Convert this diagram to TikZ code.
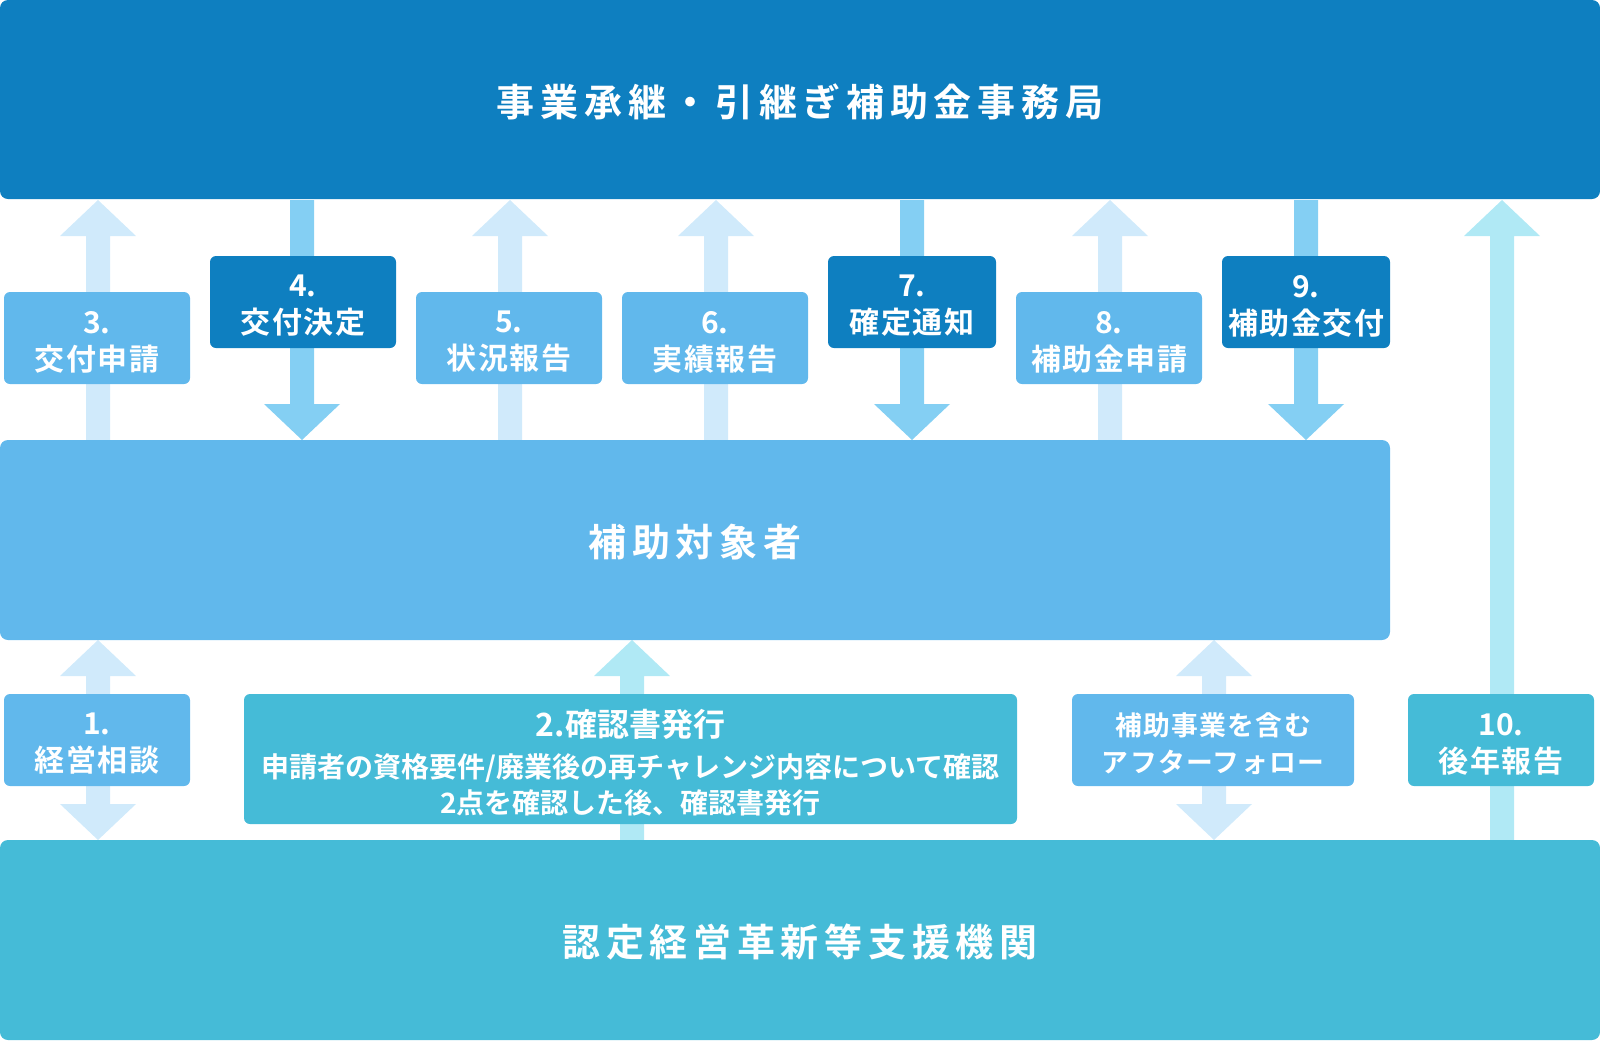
\documentclass[tikz,border=0pt]{standalone}
\usepackage{fontspec}
\setmainfont{Noto Sans CJK JP}[BoldFont={* Bold}]
\definecolor{cdark}{HTML}{0E7FC0}
\definecolor{cmid}{HTML}{61B8EC}
\definecolor{ccyan}{HTML}{45BBD7}
\definecolor{alight}{HTML}{D0EAFB}
\definecolor{amid}{HTML}{84CFF3}
\definecolor{acyan}{HTML}{B0E9F5}
\newcommand\arrUp[4]{\fill[#1] (#2-12,#3) -- (#2-12,#4+36) -- (#2-38,#4+36) -- (#2,#4) -- (#2+38,#4+36) -- (#2+12,#4+36) -- (#2+12,#3) -- cycle;}
\newcommand\arrDown[4]{\fill[#1] (#2-12,#3) -- (#2-12,#4-36) -- (#2-38,#4-36) -- (#2,#4) -- (#2+38,#4-36) -- (#2+12,#4-36) -- (#2+12,#3) -- cycle;}
\newcommand\arrBoth[4]{\fill[#1] (#2,#3) -- (#2+38,#3+36) -- (#2+12,#3+36) -- (#2+12,#4-36) -- (#2+38,#4-36) -- (#2,#4) -- (#2-38,#4-36) -- (#2-12,#4-36) -- (#2-12,#3+36) -- (#2-38,#3+36) -- cycle;}
\newcommand\numl[1]{{\addfontfeatures{LetterSpace=0}#1}}
\tikzset{
  bar/.style={rounded corners=4pt, inner sep=0pt},
  bartext/.style={inner sep=0pt, text=white, yshift=-1.2pt, font=\fontsize{19}{22}\selectfont\bfseries\addfontfeatures{LetterSpace=15}},
  lbl/.style={rounded corners=3pt, inner sep=0pt, minimum height=46pt},
  lbltext/.style={inner sep=0pt, text=white, align=center, yshift=-2pt,
     font=\fontsize{15}{18.5}\selectfont\bfseries\addfontfeatures{LetterSpace=5}},
}
\begin{document}
\begin{tikzpicture}[x=0.5pt,y=-0.5pt]
\useasboundingbox (0,0) rectangle (1600,1040);
% arrows (behind)
\arrUp{alight}{98}{440}{200}
\arrDown{amid}{302}{200}{440}
\arrUp{alight}{510}{440}{200}
\arrUp{alight}{716}{440}{200}
\arrDown{amid}{912}{200}{440}
\arrUp{alight}{1110}{440}{200}
\arrDown{amid}{1306}{200}{440}
\arrUp{acyan}{1502}{840}{200}
\arrBoth{alight}{98}{640}{840}
\arrUp{acyan}{632}{840}{640}
\arrBoth{alight}{1214}{640}{840}
% bars
\node[bar, fill=cdark, minimum width=800pt, minimum height=99.5pt] (top) at (800,99.5) {};
\node[bartext] (topt) at (top.center) {事業承継・引継ぎ補助金事務局};
\node[bar, fill=cmid, minimum width=695pt, minimum height=100pt] (mid) at (695,540) {};
\node[bartext] (midt) at (mid.center) {補助対象者};
\node[bar, fill=ccyan, minimum width=800pt, minimum height=100pt] (bot) at (800,940) {};
\node[bartext] (bott) at (bot.center) {認定経営革新等支援機関};
% labels
\node[lbl, fill=cmid, minimum width=93pt] (b3) at (97,338) {};
\node[lbltext] at (b3.center) {\numl{3.}\\交付申請};
\node[lbl, fill=cdark, minimum width=93pt] (b4) at (303,302) {};
\node[lbltext] at (b4.center) {\numl{4.}\\交付決定};
\node[lbl, fill=cmid, minimum width=93pt] (b5) at (509,338) {};
\node[lbltext] at (b5.center) {\numl{5.}\\状況報告};
\node[lbl, fill=cmid, minimum width=93pt] (b6) at (715,338) {};
\node[lbltext] at (b6.center) {\numl{6.}\\実績報告};
\node[lbl, fill=cdark, minimum width=84pt] (b7) at (912,302) {};
\node[lbltext] at (b7.center) {\numl{7.}\\確定通知};
\node[lbl, fill=cmid, minimum width=93pt] (b8) at (1109,338) {};
\node[lbltext] at (b8.center) {\numl{8.}\\補助金申請};
\node[lbl, fill=cdark, minimum width=84pt] (b9) at (1306,302) {};
\node[lbltext] at (b9.center) {\numl{9.}\\補助金交付};
\node[lbl, fill=cmid, minimum width=93pt] (b1) at (97,740) {};
\node[lbltext] at (b1.center) {\numl{1.}\\経営相談};
\node[lbl, fill=ccyan, minimum width=386.5pt, minimum height=65pt] (b2) at (630.5,759) {};
\node[lbltext, font=\fontsize{14}{18}\selectfont\bfseries] at (b2.center)
  {{\fontsize{16}{18}\selectfont 2.確認書発行}\\[2.5pt]申請者の資格要件/廃業後の再チャレンジ内容について確認\\2点を確認した後、確認書発行};
\node[lbl, fill=cmid, minimum width=141pt] (bf) at (1213,740) {};
\node[lbltext, font=\fontsize{13.4}{18.5}\selectfont\bfseries\addfontfeatures{LetterSpace=5}] at (bf.center) {補助事業を含む\\アフターフォロー};
\node[lbl, fill=ccyan, minimum width=93pt] (b10) at (1501,740) {};
\node[lbltext] at (b10.center) {\numl{10.}\\後年報告};
\end{tikzpicture}
\end{document}
